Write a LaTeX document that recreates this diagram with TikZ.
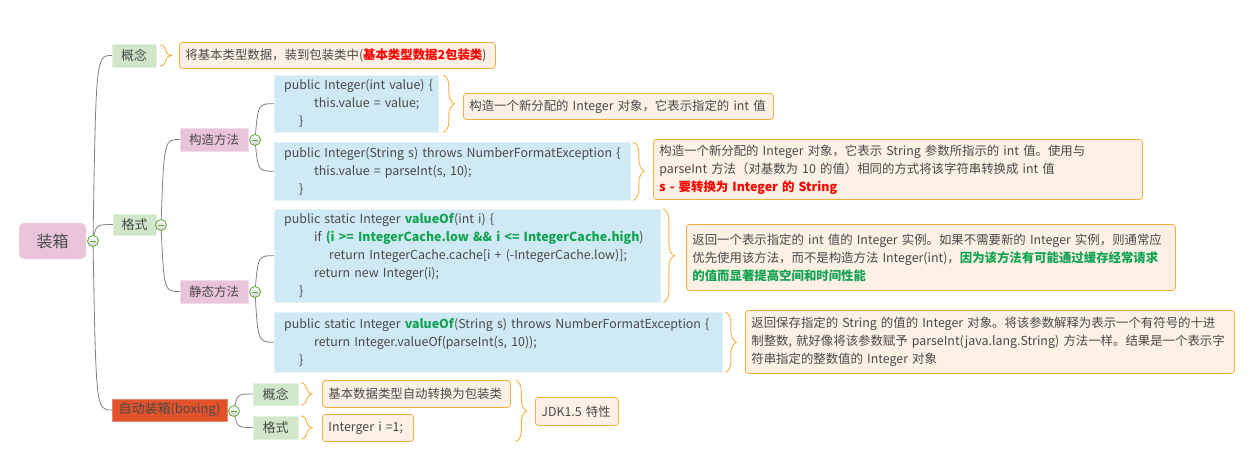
\documentclass[tikz,border=0pt]{standalone}
\usepackage{fontspec}
\setmainfont{Noto Sans CJK SC}
\usetikzlibrary{decorations.pathreplacing,backgrounds,calc}
\definecolor{txt}{HTML}{4A4A4A}
\definecolor{rootpink}{HTML}{EAC4DA}
\definecolor{lgreen}{HTML}{D0E7CA}
\definecolor{orangered}{HTML}{E2522B}
\definecolor{lblue}{HTML}{D0EAF5}
\definecolor{notefill}{HTML}{FDF0E4}
\definecolor{noteborder}{HTML}{F4B03E}
\definecolor{conngray}{HTML}{808080}
\definecolor{mgreen}{HTML}{62A935}
\definecolor{cgreen}{HTML}{12A452}
\definecolor{cred}{HTML}{FF0000}
\newcommand{\oneln}[1]{\mbox{#1}}
\begin{document}
\begin{tikzpicture}[x=1pt,y=-1pt,
  every node/.style={font=\fontsize{12.4}{18}\selectfont, text=txt},
  rootbox/.style={fill=rootpink, draw=rootpink!60!white, rounded corners=5pt, minimum width=67pt, minimum height=36pt, inner sep=0pt, font=\fontsize{16}{18}\selectfont},
  gbox/.style={fill=lgreen, draw=lgreen!60!white, minimum height=22pt, inner sep=0pt, font=\fontsize{13}{16}\selectfont},
  pbox/.style={fill=rootpink, draw=rootpink!60!white, minimum width=68pt, minimum height=23pt, inner sep=0pt, font=\fontsize{12.5}{16}\selectfont},
  obox/.style={fill=orangered, draw=orangered!70!white, minimum width=115pt, minimum height=22pt, inner sep=0pt, font=\fontsize{13}{16}\selectfont},
  codebox/.style={fill=lblue, draw=lblue!60!white, anchor=north west, align=left, inner xsep=10pt, inner ysep=0pt},
  notebox/.style={fill=notefill, draw=noteborder, line width=0.8pt, rounded corners=3pt, anchor=north west, align=left, inner xsep=6pt, inner ysep=0pt},
  minus/.style={circle, draw=mgreen, line width=0.8pt, inner sep=0pt, minimum size=11pt, top color=white, bottom color=black!18,
    path picture={\draw[mgreen, line width=1pt] ($(path picture bounding box.center)+(-3.2,0)$) -- ($(path picture bounding box.center)+(3.2,0)$);}},
  conn/.style={draw=conngray, line width=0.8pt,
    to path={.. controls ($(\tikztostart |- \tikztotarget)+(3,0)$) and ($(\tikztostart |- \tikztotarget)+(3,0)$) .. (\tikztotarget)}},
  bracebr/.style={draw=noteborder, line width=0.9pt, decorate, decoration={brace, amplitude=11pt}}
]
\useasboundingbox (0,0) rectangle (1257,466);

% root and level 1
\node[rootbox] (root) at (52.5,241) {装箱};
\node[minus] (c0) at (93,241) {};
\node[gbox, minimum width=44pt, minimum height=23pt] (k1) at (134,55.5) {概念};
\node[gbox, minimum width=43pt, minimum height=21pt] (g1) at (134.5,224.5) {格式};
\node[minus] (c1) at (161,225) {};
\node[obox] (a1) at (169.5,410) {自动装箱(boxing)};
\node[minus] (c6) at (234,411) {};

% level 2
\node[pbox] (m1) at (214,139.5) {构造方法};
\node[minus] (c2) at (255,140) {};
\node[pbox] (m2) at (214,291.5) {静态方法};
\node[minus] (c3) at (255,292) {};
\node[gbox, minimum width=45pt] (k2) at (275.5,394) {概念};
\node[gbox, minimum width=45pt, minimum height=23pt] (g2) at (275.5,427.5) {格式};

% code boxes
\node[codebox, text width=144pt, minimum height=57pt] (b1) at (274,75) {\oneln{public Integer(int value) \{}\\
\hspace*{30pt}\oneln{this.value = value;}\\
\hspace*{15pt}\}};
\node[codebox, text width=336pt, minimum height=58pt] (b2) at (274,142) {\oneln{public Integer(String s) throws NumberFormatException \{}\\
\hspace*{30pt}\oneln{this.value = parseInt(s, 10);}\\
\hspace*{15pt}\}};
\node[codebox, text width=366pt, minimum height=93pt] (b3) at (274,209) {\oneln{public static Integer \textcolor{cgreen}{\textbf{valueOf}}(int i) \{}\\
\hspace*{30pt}\oneln{if \textcolor{cgreen}{\textbf{(i >= IntegerCache.low \&\& i <= IntegerCache.high}})}\\
\hspace*{45pt}\oneln{return IntegerCache.cache[i + (-IntegerCache.low)];}\\
\hspace*{30pt}\oneln{return new Integer(i);}\\
\hspace*{15pt}\}};
\node[codebox, text width=428pt, minimum height=60pt] (b4) at (274,312) {\oneln{public static Integer \textcolor{cgreen}{\textbf{valueOf}}(String s) throws NumberFormatException \{}\\
\hspace*{30pt}\oneln{return Integer.valueOf(parseInt(s, 10));}\\
\hspace*{15pt}\}};

% notes
\node[notebox, text width=304pt, minimum height=26pt] (n0) at (179,42) {\oneln{将基本类型数据，装到包装类中(\textcolor{cred}{\textbf{基本类型数据2包装类}})}};
\node[notebox, text width=298pt, minimum height=26pt] (n1) at (463,93) {\oneln{构造一个新分配的 Integer 对象，它表示指定的 int 值}};
\node[notebox, text width=477pt, minimum height=60pt] (n2) at (653,139) {\oneln{构造一个新分配的 Integer 对象，它表示 String 参数所指示的 int 值。使用与}\\
\oneln{parseInt 方法（对基数为 10 的值）相同的方式将该字符串转换成 int 值}\\
\oneln{\textcolor{cred}{\textbf{s - 要转换为 Integer 的 String}}}};
\node[notebox, text width=477pt, minimum height=66pt] (n3) at (686,224) {\oneln{返回一个表示指定的 int 值的 Integer 实例。如果不需要新的 Integer 实例，则通常应}\\
\oneln{优先使用该方法，而不是构造方法 Integer(int)，\textcolor{cgreen}{\textbf{因为该方法有可能通过缓存经常请求}}}\\
\oneln{\textcolor{cgreen}{\textbf{的值而显著提高空间和时间性能}}}};
\node[notebox, text width=477pt, minimum height=63pt] (n4) at (745,310) {\oneln{返回保存指定的 String 的值的 Integer 对象。将该参数解释为表示一个有符号的十进}\\
\oneln{制整数, 就好像将该参数赋予 parseInt(java.lang.String) 方法一样。结果是一个表示字}\\
\oneln{符串指定的整数值的 Integer 对象}};
\node[notebox, text width=176pt, minimum height=27pt] (n5) at (322,380) {\oneln{基本数据类型自动转换为包装类}};
\node[notebox, text width=79pt, minimum height=27pt] (n6) at (322,414) {\oneln{Interger i =1;}};
\node[notebox, text width=71pt, minimum height=28pt] (n7) at (535,397) {\oneln{JDK1.5 特性}};

% connectors
\begin{scope}[on background layer]
\draw[conn] (c0.center) to (k1.west);
\draw[conn] (c0.center) to (g1.west);
\draw[conn] (c0.center) to (a1.west);
\draw[conn] (c1.center) to (m1.west);
\draw[conn] (c1.center) to (m2.west);
\draw[conn] (c2.center) to (b1.west);
\draw[conn] (c2.center) to (b2.west);
\draw[conn] (c3.center) to (b3.west);
\draw[conn] (c3.center) to (b4.west);
\draw[conn] (c6.center) to (k2.west);
\draw[conn] (c6.center) to (g2.west);
\end{scope}

% braces
\draw[bracebr] ($(k1.north east)+(4,1)$) -- ($(k1.south east)+(4,-1)$);
\draw[bracebr] ($(b1.north east)+(5,0)$) -- ($(b1.south east)+(5,0)$);
\draw[bracebr] ($(b2.north east)+(3,0)$) -- ($(b2.south east)+(3,0)$);
\draw[bracebr] ($(b3.north east)+(3,0)$) -- ($(b3.south east)+(3,0)$);
\draw[bracebr] ($(b4.north east)+(3,0)$) -- ($(b4.south east)+(3,0)$);
\draw[bracebr] ($(k2.north east)+(3,0)$) -- ($(k2.south east)+(3,0)$);
\draw[bracebr] ($(g2.north east)+(3,0)$) -- ($(g2.south east)+(3,0)$);
\draw[bracebr] ($(n5.north east)+(5,0)$) -- ($(n6.south east |- n6.south)+(102,0)$);
\end{tikzpicture}
\end{document}
